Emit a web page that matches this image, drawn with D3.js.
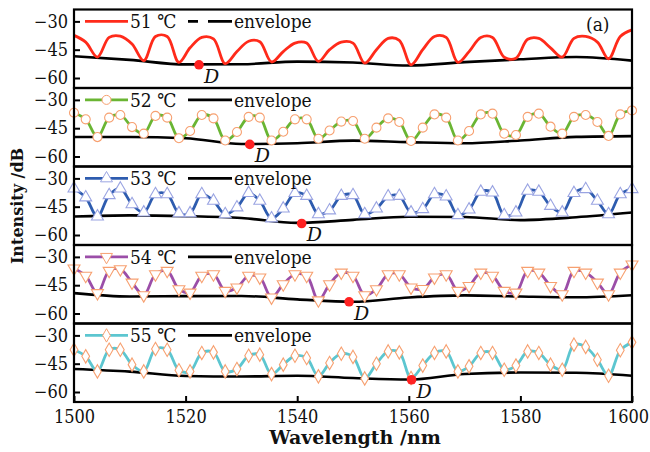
<!DOCTYPE html>
<html>
<head>
<meta charset="utf-8">
<script src="https://cdn.jsdelivr.net/npm/d3@7"></script>
<style>
  body { margin: 0; background: #fff; }
  text { font-family: "DejaVu Serif", "Liberation Serif", serif; fill: #111; }
  .cond { font-family: "DejaVu Serif Condensed", "DejaVu Serif", serif; font-stretch: condensed; }
</style>
</head>
<body>
<script>
// wavelength grid of the measured spectra (nm)
var wave = [1500, 1502.1, 1504.2, 1506.3, 1508.3, 1510.4, 1512.5, 1514.6, 1516.7, 1518.8,
  1520.8, 1522.9, 1525, 1527.1, 1529.2, 1531.3, 1533.3, 1535.4, 1537.5, 1539.6,
  1541.7, 1543.8, 1545.8, 1547.9, 1550, 1552.1, 1554.2, 1556.3, 1558.3, 1560.4,
  1562.5, 1564.6, 1566.7, 1568.8, 1570.8, 1572.9, 1575, 1577.1, 1579.2, 1581.3,
  1583.3, 1585.4, 1587.5, 1589.6, 1591.7, 1593.8, 1595.8, 1597.9, 1600];

// spectra (dB)
var t51 = [-37.4, -41, -48.9, -38.5, -37.8, -42, -50.8, -38, -38, -51.7,
  -44, -38.5, -39.3, -52.4, -46, -40.5, -40.8, -51.5, -46, -41.5,
  -41.5, -51.2, -45, -41, -41.5, -52.1, -45, -39, -40, -53,
  -45, -38, -38.5, -51.7, -46, -38.5, -38.5, -49, -49.5, -39.5,
  -39, -44, -48.9, -39, -38, -41, -49.8, -38, -34.5];
var t52 = [-36.8, -40.3, -49.7, -39.4, -38, -44.4, -47.9, -38.5, -39.4, -50.3,
  -46.5, -38, -39.8, -51.5, -47, -39, -39.4, -51.5, -46.9, -40.3,
  -40.3, -50.6, -46.2, -41.5, -41.2, -50.6, -44.7, -39.8, -41.7, -51.8,
  -44.7, -37.7, -39.4, -51.5, -46.5, -37.7, -37.3, -47.9, -48.6, -39,
  -37.3, -44.2, -47.9, -39, -38, -41.7, -49.1, -37.7, -35.6];
var t53 = [-35.4, -40.1, -50.2, -38.9, -35.4, -43.7, -48.1, -38.4, -38.4, -48.5,
  -48.5, -38.4, -41.9, -49, -45.4, -37.8, -41.9, -51.2, -46, -37.8,
  -39.3, -49, -47, -39.3, -38.9, -49, -46, -39.6, -39.3, -48.1,
  -46.3, -38.4, -39.6, -49.5, -46.5, -37.1, -37.5, -49.5, -48.1, -36.6,
  -37.1, -44.6, -48.1, -37.8, -35.7, -41.9, -49, -38.4, -35.7];
var t54 = [-36.1, -40, -49.2, -37.4, -36.5, -43.6, -50.3, -39.2, -37.4, -47.1,
  -48.9, -40, -39.2, -48, -46.2, -40, -40.9, -51.5, -44.5, -39.2,
  -40, -53, -44.5, -38.3, -40, -50.3, -47.1, -39.2, -39.2, -46.2,
  -47, -40.9, -39.2, -48, -45.4, -38.3, -40, -48, -48.9, -37.4,
  -38.3, -45.4, -49.8, -37.4, -38.3, -43.6, -49.8, -38.3, -34];
var t55 = [-37.6, -41.1, -49.1, -37.6, -37.6, -45.5, -49.1, -37.2, -37.6, -48.5,
  -49.1, -39.3, -39, -49.1, -47.8, -40.8, -40.2, -50.5, -45.5, -40.8,
  -42, -51.7, -44.6, -39.7, -41.4, -52.8, -45, -38.5, -39, -52.6,
  -46, -39.3, -38.5, -49.1, -46.4, -39.3, -39.3, -48.2, -46, -38.5,
  -39.3, -45.5, -48.2, -34.9, -36.1, -42.9, -51.4, -37.9, -33.7];

// envelopes (dB) sampled every 10 nm
var envWave = [1500, 1510, 1520, 1530, 1540, 1550, 1560, 1570, 1580, 1590, 1600];
var env51 = [-48.5, -50.4, -52.8, -52.7, -51.3, -51.8, -53.4, -51.6, -50.1, -48.9, -50.8];
var env52 = [-49.7, -49.7, -50.3, -53.4, -53.0, -51.6, -52.4, -53.0, -51.5, -49.6, -49.2];
var env53 = [-50.2, -49.6, -50.0, -51.0, -53.6, -52.0, -50.3, -50.5, -52.1, -50.6, -48.1];
var env54 = [-49.2, -51.0, -50.8, -50.7, -52.5, -53.8, -51.5, -50.4, -51.0, -51.4, -50.3];
var env55 = [-47.8, -49.2, -51.5, -51.8, -51.4, -52.6, -53.4, -50.5, -49.7, -49.8, -51.4];

// dip points D
var dWave = [1522.4, 1531.5, 1540.8, 1549.3, 1560.5];
var dValue = [-53.0, -53.6, -53.9, -53.8, -53.5];

var temps = ["51 ℃", "52 ℃", "53 ℃", "54 ℃", "55 ℃"];
var xTicks = [1500, 1520, 1540, 1560, 1580, 1600];
var yTicks = [-30, -45, -60];

window.onload = function(){
  var spectra = [t51, t52, t53, t54, t55];
  var envelopes = [env51, env52, env53, env54, env55];
  var lineColors = ["#ff2a1a", "#6ab533", "#2e5caf", "#9b4ea8", "#5cc6d0"];
  var markerStroke = [null, "#f7a070", "#9aa4e2", "#f7a070", "#f7a070"];

  var w = 650, h = 452;
  var left = 74, right = 632, top0 = 9.5, panelH = 78.5;

  var svg = d3.select("body").append("svg")
    .attr("width", w)
    .attr("height", h);

  var x = d3.scaleLinear().domain([1500, 1600]).range([left, right]);

  //marker shape for each panel
  function markerPath(k) {
    if (k == 2 || k == 3) return d3.symbol().type(d3.symbolTriangle).size(62)();
    if (k == 4) return d3.symbol().type(d3.symbolDiamond).size(52)();
    return d3.symbol().type(d3.symbolCircle).size(64)();
  }

  for (var k = 0; k < 5; k++) {
    var pTop = top0 + k * panelH;
    var y = d3.scaleLinear().domain([-65.3, -23.7]).range([pTop + panelH, pTop]);
    var g = svg.append("g").attr("class", "panel");

    var line = d3.line()
      .x(function(d) { return x(d[0]); })
      .y(function(d) { return y(d[1]); });

    // envelope
    var envData = envWave.map(function(d, i) { return [d, envelopes[k][i]]; });
    g.append("path")
      .attr("fill", "none")
      .attr("stroke", "#000")
      .attr("stroke-width", 2.6)
      .attr("d", line.curve(d3.curveMonotoneX)(envData));

    // spectrum
    var specData = wave.map(function(d, i) { return [d, spectra[k][i]]; });
    g.append("path")
      .attr("fill", "none")
      .attr("stroke", lineColors[k])
      .attr("stroke-width", 2.8)
      .attr("stroke-linejoin", "round")
      .attr("d", line.curve(d3.curveCatmullRom)(specData));

    // markers
    if (k > 0) {
      var flip = k == 3 ? " rotate(180)" : "";
      g.selectAll(".mk")
        .data(specData)
        .enter()
        .append("path")
        .attr("class", "mk")
        .attr("d", markerPath(k))
        .attr("transform", function(d) {
          return "translate(" + x(d[0]) + "," + y(d[1]) + ")" + flip;
        })
        .attr("fill", "#fff")
        .attr("stroke", markerStroke[k])
        .attr("stroke-width", 1.1);
    }

    // D point
    g.append("circle")
      .attr("cx", x(dWave[k]))
      .attr("cy", y(dValue[k]))
      .attr("r", 4.8)
      .attr("fill", "#f22");
    g.append("text")
      .attr("x", x(dWave[k]) + 5)
      .attr("y", y(dValue[k]) + 18)
      .style("font-style", "italic")
      .style("font-size", "19px")
      .text("D");

    // frame
    g.append("rect")
      .attr("x", left).attr("y", pTop)
      .attr("width", right - left).attr("height", panelH)
      .attr("fill", "none")
      .attr("stroke", "#000")
      .attr("stroke-width", 2.2);

    // y axis
    var yAxis = d3.axisLeft(y).tickValues(yTicks)
      .tickSizeInner(-6).tickSizeOuter(0).tickPadding(6)
      .tickFormat(function(d) { return String(d).replace("-", "\u2212"); });
    var ya = g.append("g")
      .attr("transform", "translate(" + left + ",0)")
      .call(yAxis);
    ya.select(".domain").remove();
    ya.selectAll("line").attr("stroke", "#000").attr("stroke-width", 2);
    ya.selectAll("text").attr("class", "cond").attr("font-family", null)
      .style("font-size", "18px").attr("fill", "#111");

    // legend
    var ly = y(-30);
    g.append("line")
      .attr("x1", 85).attr("x2", 128).attr("y1", ly).attr("y2", ly)
      .attr("stroke", lineColors[k]).attr("stroke-width", 2.8);
    if (k > 0) {
      g.append("path")
        .attr("d", markerPath(k))
        .attr("transform", "translate(106.5," + ly + ")" + (k == 3 ? " rotate(180)" : ""))
        .attr("fill", "#fff")
        .attr("stroke", markerStroke[k]);
    }
    g.append("text")
      .attr("class", "cond")
      .attr("x", 130).attr("y", ly + 7)
      .style("font-size", "19px")
      .text(temps[k]);
    g.append("line")
      .attr("x1", 188).attr("x2", 232).attr("y1", ly).attr("y2", ly)
      .attr("stroke", "#000").attr("stroke-width", 2.8)
      .attr("stroke-dasharray", k == 0 ? "10,10,24" : null);
    g.append("text")
      .attr("class", "cond")
      .attr("x", 234).attr("y", ly + 7)
      .style("font-size", "19px")
      .text("envelope");
  }

  // x axis on the bottom panel
  var xAxis = d3.axisBottom(x).tickValues(xTicks)
    .tickSizeInner(-6).tickSizeOuter(0).tickPadding(8)
    .tickFormat(d3.format("d"));
  var xa = svg.append("g")
    .attr("transform", "translate(0," + (top0 + 5 * panelH) + ")")
    .call(xAxis);
  xa.select(".domain").remove();
  xa.selectAll("line").attr("stroke", "#000").attr("stroke-width", 2);
  xa.selectAll("text").attr("class", "cond").attr("font-family", null)
    .style("font-size", "18px").attr("fill", "#111")
    .attr("dx", function(d) { return d == 1600 ? -4 : 0; });

  // panel label
  svg.append("text")
    .attr("class", "cond")
    .attr("x", 586).attr("y", 31)
    .style("font-size", "19px")
    .text("(a)");

  // axis titles
  svg.append("text")
    .attr("x", 355).attr("y", 444)
    .attr("text-anchor", "middle")
    .style("font-size", "19px")
    .style("font-weight", "bold")
    .text("Wavelength /nm");
  svg.append("text")
    .attr("transform", "translate(23,206) rotate(-90)")
    .attr("text-anchor", "middle")
    .style("font-size", "16px")
    .style("font-weight", "bold")
    .text("Intensity /dB");
};
</script>
</body>
</html>
